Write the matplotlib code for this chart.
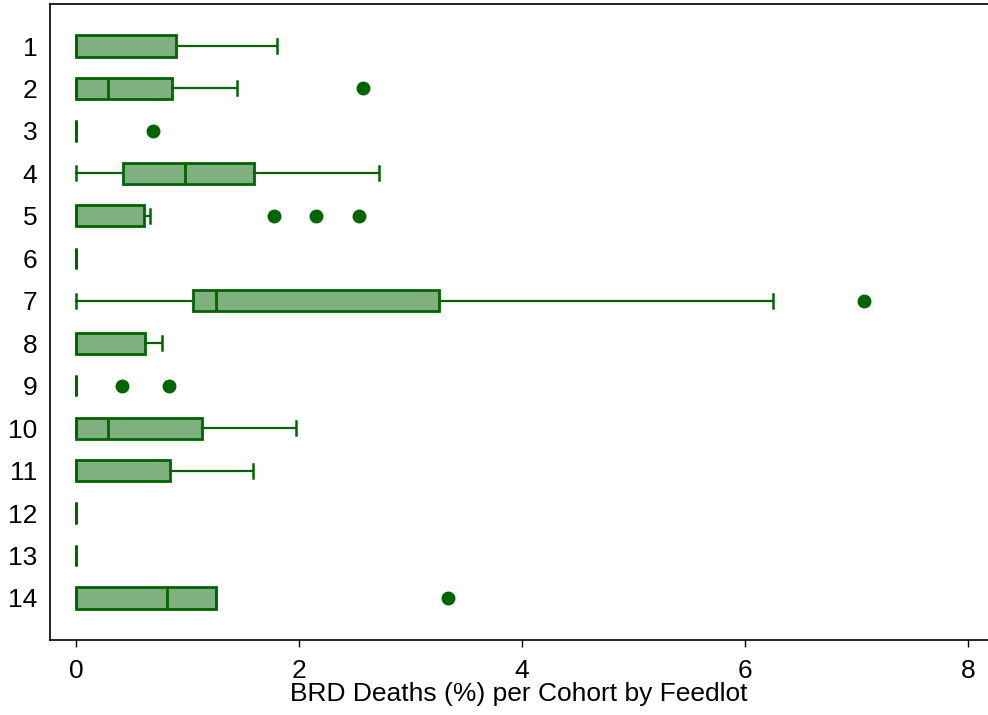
import matplotlib.pyplot as plt

# Feedlot labels and box plot statistics
feedlots = [str(i) for i in range(1, 15)]
whislo = [0, 0, 0, 0, 0, 0, 0, 0, 0, 0, 0, 0, 0, 0]
q1 = [0, 0, 0, 0.42, 0, 0, 1.05, 0, 0, 0, 0, 0, 0, 0]
med = [0, 0.29, 0, 0.98, 0, 0, 1.26, 0, 0, 0.29, 0, 0, 0, 0.82]
q3 = [0.90, 0.86, 0, 1.60, 0.61, 0, 3.26, 0.62, 0, 1.13, 0.84, 0, 0, 1.26]
whishi = [1.80, 1.44, 0, 2.72, 0.66, 0, 6.25, 0.77, 0, 1.97, 1.59, 0, 0, 1.26]
outliers = [[], [2.57], [0.69], [], [1.78, 2.15, 2.54], [], [7.07], [], [0.41, 0.83],
            [], [], [], [], [3.34]]

dark = '#006400'
light = '#80b080'

stats = []
for i in range(len(feedlots)):
    stats.append({'label': feedlots[i], 'whislo': whislo[i], 'q1': q1[i], 'med': med[i],
                  'q3': q3[i], 'whishi': whishi[i], 'fliers': outliers[i]})

plt.rcParams['font.family'] = ['Liberation Sans', 'DejaVu Sans']

fig = plt.figure(figsize=(9.88, 7.15), dpi=100)
ax = fig.add_axes([0.0506, 0.1049, 0.9494, 0.8895])

ax.bxp(stats, positions=range(1, 15), vert=False, widths=0.5, capwidths=0.33,
       patch_artist=True,
       boxprops=dict(facecolor=light, edgecolor=dark, linewidth=2.0),
       medianprops=dict(color=dark, linewidth=2.0),
       whiskerprops=dict(color=dark, linewidth=1.6),
       capprops=dict(color=dark, linewidth=1.8),
       flierprops=dict(marker='o', markerfacecolor=dark, markeredgecolor=dark,
                       markersize=9, linestyle='none'))

ax.set_xlim(-0.233, 8.18)
ax.set_ylim(14.99, 0.01)
ax.set_xticks([0, 2, 4, 6, 8])
ax.set_yticks(range(1, 15))
ax.set_yticklabels(feedlots)
ax.tick_params(axis='y', length=0, pad=9, labelsize=19)
ax.tick_params(axis='x', length=5, width=1, pad=9, labelsize=19)
ax.set_xlabel('BRD Deaths (%) per Cohort by Feedlot', fontsize=19, labelpad=-1)

ax.spines['right'].set_visible(False)
for s in ['left', 'top', 'bottom']:
    ax.spines[s].set_linewidth(1.2)

fig.savefig('out.png', dpi=100)
